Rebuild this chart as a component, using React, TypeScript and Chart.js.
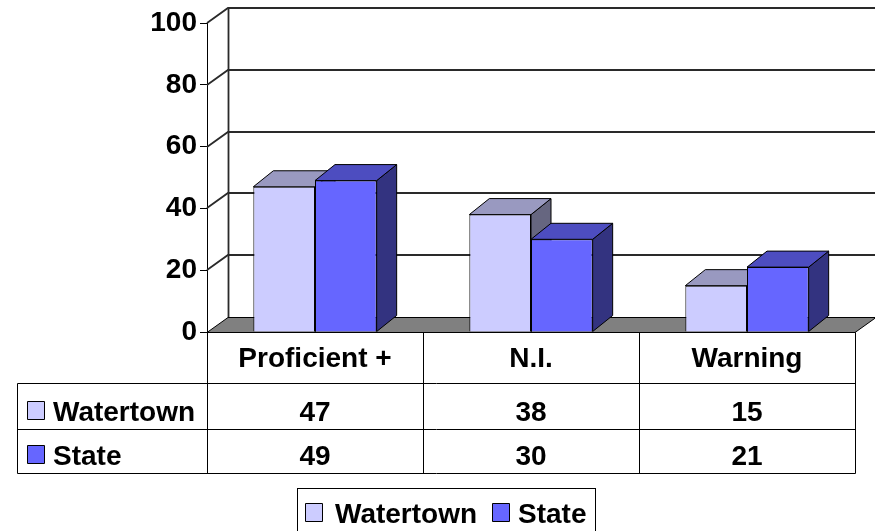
import React, { useEffect, useRef } from 'react';
import { Chart, registerables } from 'chart.js';
Chart.register(...registerables);

const categories = ['Proficient +', 'N.I.', 'Warning'];
const seriesNames = ['Watertown', 'State'];
const watertown = [47, 38, 15];
const state = [49, 30, 21];
const yTicks = [0, 20, 40, 60, 80, 100];

const FRONT = ['#CCCCFF', '#6666FF'];
const TOP = ['#9999C0', '#4D4DC0'];
const SIDE = ['#666680', '#333380'];
const FONT = "Arial, 'Liberation Sans', sans-serif";

const WALL_DX = 21;
const WALL_DY = -15;
const BAR_DX = 20;
const BAR_DY = -16;

function poly(ctx: CanvasRenderingContext2D, pts: number[][], fill: string, stroke: string) {
  ctx.beginPath();
  ctx.moveTo(pts[0][0], pts[0][1]);
  for (let i = 1; i < pts.length; i++) ctx.lineTo(pts[i][0], pts[i][1]);
  ctx.closePath();
  ctx.fillStyle = fill;
  ctx.fill();
  ctx.strokeStyle = stroke;
  ctx.lineWidth = 1;
  ctx.stroke();
}

const threeD = {
  id: 'threeD',
  beforeDatasetsDraw(chart: any) {
    const { ctx, chartArea: a, scales } = chart;
    const y = scales.y;
    ctx.save();
    ctx.strokeStyle = '#2a2a2a';
    ctx.lineWidth = 1.8;
    yTicks.forEach((v) => {
      if (v === 0) return;
      const py = Math.round(y.getPixelForValue(v));
      ctx.beginPath();
      ctx.moveTo(a.left, py);
      ctx.lineTo(a.left + WALL_DX, py + WALL_DY);
      ctx.lineTo(a.right + WALL_DX + 40, py + WALL_DY);
      ctx.stroke();
    });
    const yTop = Math.round(y.getPixelForValue(100));
    const yBot = Math.round(y.getPixelForValue(0)) + 0.5;
    ctx.beginPath();
    ctx.moveTo(a.left + WALL_DX + 0.5, yTop + WALL_DY);
    ctx.lineTo(a.left + WALL_DX + 0.5, yBot + WALL_DY);
    ctx.stroke();
    poly(
      ctx,
      [
        [a.left, yBot],
        [a.right, yBot],
        [a.right + WALL_DX, yBot + WALL_DY],
        [a.left + WALL_DX, yBot + WALL_DY],
      ],
      '#808080',
      '#000'
    );
    const metas = [chart.getDatasetMeta(0), chart.getDatasetMeta(1)];
    for (let i = 0; i < categories.length; i++) {
      metas.forEach((meta, d) => {
        const el = meta.data[i];
        const l = el.x - el.width / 2;
        const r = el.x + el.width / 2;
        const t = el.y;
        const b = el.base;
        poly(ctx, [[r, t], [r + BAR_DX, t + BAR_DY], [r + BAR_DX, b + BAR_DY], [r, b]], SIDE[d], '#000');
        poly(ctx, [[l, t], [r, t], [r + BAR_DX, t + BAR_DY], [l + BAR_DX, t + BAR_DY]], TOP[d], '#000');
      });
    }
    ctx.restore();
  },
  afterDraw(chart: any) {
    const { ctx, chartArea: a, scales } = chart;
    const x = scales.x;
    ctx.save();
    const top = Math.round(a.bottom) + 0.5;
    const r1 = top + 51;
    const r2 = r1 + 46;
    const r3 = r2 + 44;
    const tl = 17.5;
    const left = Math.round(a.left) + 0.5;
    const right = Math.round(a.right) + 0.5;
    ctx.strokeStyle = '#000';
    ctx.lineWidth = 1;
    ctx.beginPath();
    ctx.moveTo(left, top); ctx.lineTo(right, top);
    [r1, r2, r3].forEach((ry) => { ctx.moveTo(tl, ry); ctx.lineTo(right, ry); });
    ctx.moveTo(left, top); ctx.lineTo(left, r3);
    ctx.moveTo(right, top); ctx.lineTo(right, r3);
    ctx.moveTo(tl, r1); ctx.lineTo(tl, r3);
    for (let i = 0; i < categories.length - 1; i++) {
      const bx = Math.round((x.getPixelForValue(i) + x.getPixelForValue(i + 1)) / 2) + 0.5;
      ctx.moveTo(bx, top); ctx.lineTo(bx, r3);
    }
    ctx.stroke();

    ctx.fillStyle = '#000';
    ctx.font = `bold 28px ${FONT}`;
    ctx.textAlign = 'center';
    ctx.textBaseline = 'alphabetic';
    const rows = [watertown, state];
    const baselines = [421, 465];
    categories.forEach((c, i) => {
      const cx = x.getPixelForValue(i);
      ctx.fillText(c, cx, 367);
      rows.forEach((row, d) => ctx.fillText(String(row[i]), cx, baselines[d]));
    });
    ctx.textAlign = 'left';
    seriesNames.forEach((n, d) => {
      const by = baselines[d];
      poly(ctx, [[27.5, by - 19.5], [44.5, by - 19.5], [44.5, by - 1.5], [27.5, by - 1.5]], FRONT[d], '#000');
      ctx.fillStyle = '#000';
      ctx.fillText(n, 53, by);
    });

    ctx.strokeStyle = '#000';
    ctx.lineWidth = 1;
    ctx.strokeRect(297.5, 488.5, 298, 60);
    const lx = [305.5, 492.5];
    const tx = [335, 518];
    seriesNames.forEach((n, d) => {
      poly(ctx, [[lx[d], 503.5], [lx[d] + 17, 503.5], [lx[d] + 17, 521.5], [lx[d], 521.5]], FRONT[d], '#000');
      ctx.fillStyle = '#000';
      ctx.fillText(n, tx[d], 523);
    });
    ctx.restore();
  },
};

export default function App() {
  const ref = useRef<HTMLCanvasElement | null>(null);
  useEffect(() => {
    if (!ref.current) return;
    const chart = new Chart(ref.current, {
      type: 'bar',
      data: {
        labels: categories,
        datasets: [
          { label: seriesNames[0], data: watertown, backgroundColor: FRONT[0], borderColor: '#000', borderWidth: 1 },
          { label: seriesNames[1], data: state, backgroundColor: FRONT[1], borderColor: '#000', borderWidth: 1 },
        ],
      },
      options: {
        responsive: false,
        animation: false,
        devicePixelRatio: 1,
        layout: { padding: { top: 23, right: 20, bottom: 199, left: 0 } },
        datasets: { bar: { categoryPercentage: 0.571, barPercentage: 1 } },
        plugins: { legend: { display: false }, tooltip: { enabled: false } },
        scales: {
          x: { display: false },
          y: {
            min: 0,
            max: 100,
            afterFit: (s: any) => { s.width = 207; },
            ticks: { stepSize: 20, color: '#000', padding: 3, font: { family: FONT, size: 28, weight: 'bold' } },
            grid: { drawOnChartArea: false, drawTicks: true, tickLength: 7, color: '#000' },
            border: { display: true, color: '#000', width: 1 },
          },
        },
      },
      plugins: [threeD],
    } as any);
    return () => chart.destroy();
  }, []);
  return (
    <div style={{ position: 'absolute', left: 0, top: 0, width: 875, height: 531, background: '#fff' }}>
      <canvas ref={ref} width={875} height={531} style={{ display: 'block' }} />
    </div>
  );
}
